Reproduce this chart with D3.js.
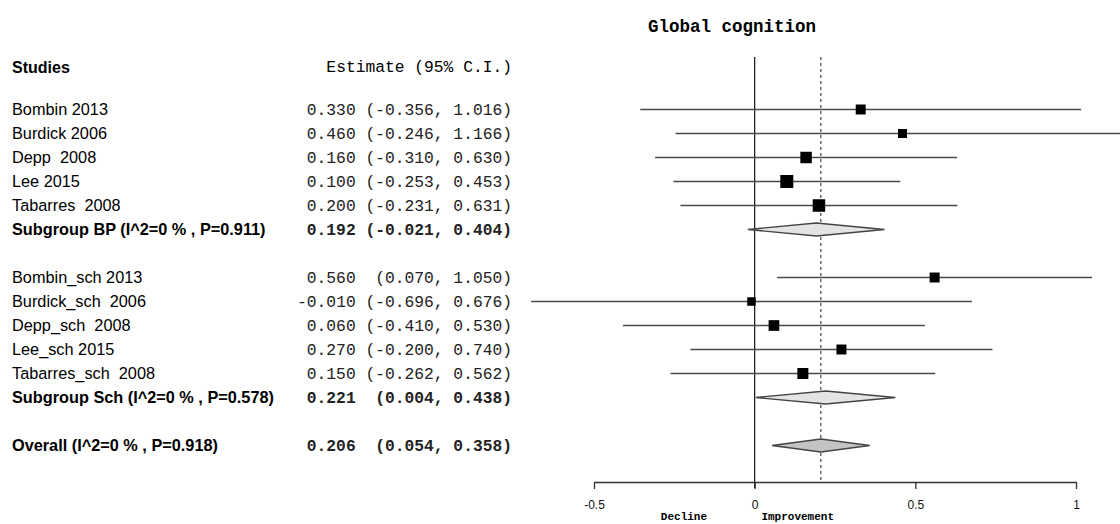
<!DOCTYPE html>
<html>
<head>
<meta charset="utf-8">
<script src="https://cdn.jsdelivr.net/npm/d3@7"></script>
<style>
  body { margin: 0; background: #fff; }
  text { white-space: pre; }
</style>
</head>
<body>
<div id="chart"></div>
<script>
// rows of the forest plot, top to bottom ('' = spacer row)
const studyLabels = [
    'Bombin 2013', 'Burdick 2006', 'Depp  2008', 'Lee 2015', 'Tabarres  2008',
    'Subgroup BP (I^2=0 % , P=0.911)', '',
    'Bombin_sch 2013', 'Burdick_sch  2006', 'Depp_sch  2008', 'Lee_sch 2015', 'Tabarres_sch  2008',
    'Subgroup Sch (I^2=0 % , P=0.578)', '',
    'Overall (I^2=0 % , P=0.918)'
];
const rowKinds = ['study', 'study', 'study', 'study', 'study', 'subgroup', 'blank',
    'study', 'study', 'study', 'study', 'study', 'subgroup', 'blank', 'overall'];
const estimates = [0.330, 0.460, 0.160, 0.100, 0.200, 0.192, null,
    0.560, -0.010, 0.060, 0.270, 0.150, 0.221, null, 0.206];
const lowers = [-0.356, -0.246, -0.310, -0.253, -0.231, -0.021, null,
    0.070, -0.696, -0.410, -0.200, -0.262, 0.004, null, 0.054];
const uppers = [1.016, 1.166, 0.630, 0.453, 0.631, 0.404, null,
    1.050, 0.676, 0.530, 0.740, 0.562, 0.438, null, 0.358];
// study weights (%)
const weights = [8.7, 7.1, 11.5, 14.8, 13.7, null, null,
    8.7, 6.3, 10.0, 8.7, 10.6, null, null, null];
const tickValues = [-0.5, 0, 0.5, 1];
const tickLabels = ['-0.5', '0', '0.5', '1'];
const overallEstimate = 0.206;

const width = 1120, height = 524;
const sans = "'Liberation Sans', Arial, sans-serif";
const mono = "'Liberation Mono', 'Courier New', monospace";

const svg = d3.select('#chart')
    .append('svg')
    .attr('width', width)
    .attr('height', height);

const x = d3.scaleLinear().domain([-0.5, 1]).range([594, 1076]);
const y = d3.scalePoint().domain(d3.range(studyLabels.length)).range([109.5, 445.5]);
const box = d3.scaleSqrt().domain([0, d3.max(weights)]).range([0, 13]);

const axisY = 482;

const fmtCI = (e, lo, hi) =>
    e.toFixed(3) + ' ' + ('(' + lo.toFixed(3)).padStart(7, ' ') + ', ' + hi.toFixed(3) + ')';

const rows = studyLabels.map((label, i) => ({
    i, label, kind: rowKinds[i], est: estimates[i], lo: lowers[i], hi: uppers[i], w: weights[i]
}));

// headers
svg.append('text')
    .attr('x', 12).attr('y', 73)
    .attr('font-family', sans).attr('font-size', 16).attr('font-weight', 'bold')
    .text('Studies');
svg.append('text')
    .attr('x', 512).attr('y', 72)
    .attr('text-anchor', 'end')
    .attr('font-family', mono).attr('font-size', 16.3)
    .text('Estimate (95% C.I.)');
svg.append('text')
    .attr('x', 732).attr('y', 32)
    .attr('text-anchor', 'middle')
    .attr('font-family', mono).attr('font-size', 17.5).attr('font-weight', 'bold')
    .text('Global cognition');

// left-hand labels and estimates
const filled = rows.filter(d => d.kind !== 'blank');
svg.selectAll('.lab')
    .data(filled)
    .enter().append('text')
    .attr('x', 12)
    .attr('y', d => y(d.i) + 5.5)
    .attr('font-family', sans).attr('font-size', 16.3)
    .attr('font-weight', d => d.kind === 'study' ? 'normal' : 'bold')
    .text(d => d.label);

svg.selectAll('.est')
    .data(filled)
    .enter().append('text')
    .attr('x', 512)
    .attr('y', d => y(d.i) + 5)
    .attr('text-anchor', 'end')
    .attr('font-family', mono).attr('font-size', 16.3)
    .attr('font-weight', d => d.kind === 'study' ? 'normal' : 'bold')
    .attr('fill', '#222')
    .text(d => fmtCI(d.est, d.lo, d.hi));

// reference lines
svg.append('line')
    .attr('x1', x(0)).attr('x2', x(0))
    .attr('y1', 57).attr('y2', axisY + 6)
    .attr('stroke', '#111').attr('stroke-width', 1.2);
svg.append('line')
    .attr('x1', x(overallEstimate)).attr('x2', x(overallEstimate))
    .attr('y1', 57).attr('y2', axisY)
    .attr('stroke', '#444').attr('stroke-width', 1.2)
    .attr('stroke-dasharray', '3,3');

// confidence intervals and boxes for single studies
const studies = rows.filter(d => d.kind === 'study');
svg.selectAll('.ci')
    .data(studies)
    .enter().append('line')
    .attr('x1', d => x(d.lo)).attr('x2', d => x(d.hi))
    .attr('y1', d => y(d.i)).attr('y2', d => y(d.i))
    .attr('stroke', '#4a4a4a').attr('stroke-width', 1.6);

svg.selectAll('.box')
    .data(studies)
    .enter().append('rect')
    .attr('x', d => x(d.est) - box(d.w) / 2)
    .attr('y', d => y(d.i) - box(d.w) / 2)
    .attr('width', d => box(d.w))
    .attr('height', d => box(d.w))
    .attr('fill', '#000');

// pooled diamonds
const pooled = rows.filter(d => d.kind === 'subgroup' || d.kind === 'overall');
svg.selectAll('.diamond')
    .data(pooled)
    .enter().append('path')
    .attr('d', d => {
        const cy = y(d.i), h = 6.5;
        return `M${x(d.lo)},${cy}L${x(d.est)},${cy - h}L${x(d.hi)},${cy}L${x(d.est)},${cy + h}Z`;
    })
    .attr('fill', d => d.kind === 'overall' ? '#c4c4c4' : '#e4e4e4')
    .attr('stroke', '#444').attr('stroke-width', 1.3);

// x axis
const axis = svg.append('g')
    .attr('transform', `translate(0,${axisY})`)
    .call(d3.axisBottom(x)
        .tickValues(tickValues)
        .tickFormat((d, i) => tickLabels[i])
        .tickSize(7)
        .tickSizeOuter(0)
        .tickPadding(11));
axis.select('.domain').attr('stroke', '#333').attr('stroke-width', 1.3);
axis.selectAll('.tick line').attr('stroke', '#333').attr('stroke-width', 1.3)
    .attr('y2', 7);
axis.selectAll('.tick text')
    .attr('font-family', sans).attr('font-size', 12).attr('fill', '#111');

svg.append('text')
    .attr('x', x(-0.22)).attr('y', 520)
    .attr('text-anchor', 'middle')
    .attr('font-family', mono).attr('font-size', 11).attr('font-weight', 'bold')
    .text('Decline');
svg.append('text')
    .attr('x', x(0.134)).attr('y', 520)
    .attr('text-anchor', 'middle')
    .attr('font-family', mono).attr('font-size', 11).attr('font-weight', 'bold')
    .text('Improvement');
</script>
</body>
</html>
